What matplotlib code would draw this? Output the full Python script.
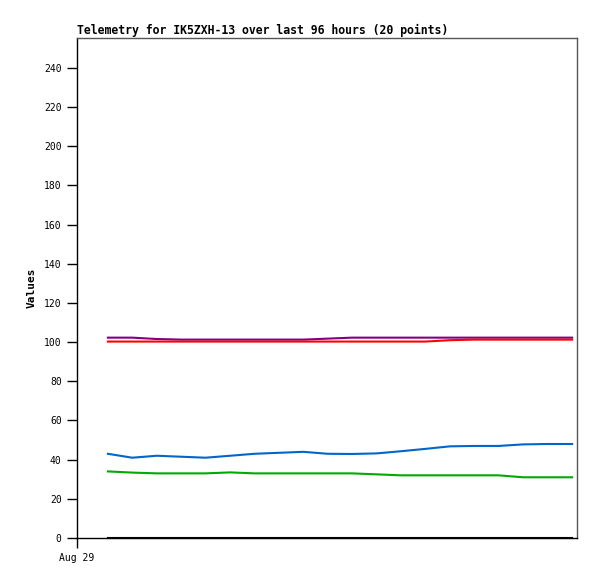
import matplotlib
matplotlib.use("Agg")
import matplotlib.pyplot as plt

# minutes after Aug 29 00:00 for each of the 20 samples
minutes = [89, 159, 230, 300, 370, 441, 511, 581, 652, 722,
           792, 863, 933, 1003, 1074, 1144, 1214, 1285, 1355, 1426]

purple = [102.3, 102.3, 101.6, 101.3, 101.3, 101.3, 101.3, 101.3, 101.3, 101.8,
          102.3, 102.3, 102.3, 102.3, 102.3, 102.3, 102.3, 102.3, 102.3, 102.3]
red = [100.3, 100.3, 100.3, 100.3, 100.3, 100.3, 100.3, 100.3, 100.3, 100.3,
       100.3, 100.3, 100.3, 100.3, 101.0, 101.3, 101.3, 101.3, 101.3, 101.3]
blue = [43.0, 41.0, 42.0, 41.5, 41.0, 42.0, 43.0, 43.5, 44.0, 43.0,
        42.9, 43.2, 44.3, 45.5, 46.8, 47.0, 47.0, 47.8, 48.0, 48.0]
green = [34.0, 33.4, 33.0, 33.0, 33.0, 33.5, 33.0, 33.0, 33.0, 33.0,
         33.0, 32.5, 32.0, 32.0, 32.0, 32.0, 32.0, 31.0, 31.0, 31.0]
black = [0] * 20

yticks = list(range(0, 241, 20))
xticks = [0]
xtick_labels = ["Aug 29"]

W, H = 597, 579
fig = plt.figure(figsize=(W / 100, H / 100), dpi=100)
ax = fig.add_axes([77 / W, (H - 538) / H, 500 / W, 500 / H])

lw = 1.5
ax.plot(minutes, purple, color="#800080", lw=lw)
ax.plot(minutes, red, color="#ff0000", lw=lw)
ax.plot(minutes, blue, color="#0066cc", lw=lw)
ax.plot(minutes, green, color="#00aa00", lw=lw)
ax.plot(minutes, black, color="#000000", lw=lw, clip_on=False)

ax.set_xlim(0, 1440)
ax.set_ylim(0, 255.3)
ax.set_yticks(yticks)
ax.set_xticks(xticks)
ax.set_xticklabels(xtick_labels)

mono = "DejaVu Sans Mono"
ax.tick_params(direction="out", length=7, width=1, color="#000000",
               labelsize=7, pad=4)
for lab in ax.get_xticklabels() + ax.get_yticklabels():
    lab.set_family(mono)
for s in ax.spines.values():
    s.set_color("#555555")
    s.set_linewidth(1)
ax.spines["left"].set_color("#000000")
ax.spines["bottom"].set_color("#000000")

ax.set_title("Telemetry for IK5ZXH-13 over last 96 hours (20 points)",
             loc="left", fontsize=8.3, fontweight="bold", family=mono, pad=3)
fig.text(32 / W, (H - 288) / H, "Values", rotation=90, ha="center", va="center",
         fontsize=8, fontweight="bold", family=mono)

fig.savefig("out.png", dpi=100)
